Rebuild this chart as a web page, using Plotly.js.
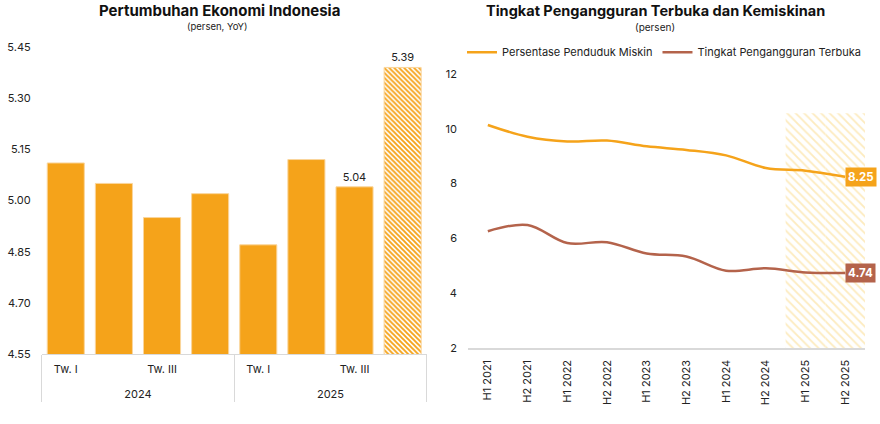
<!DOCTYPE html>
<html>
<head>
<meta charset="utf-8">
<script src="https://cdn.plot.ly/plotly-3.0.1.min.js"></script>
<style>html,body{margin:0;padding:0;background:#fff;}#chart{width:880px;height:424px;}</style>
</head>
<body>
<div id="chart"></div>
<script>
// ---- Data: left chart (GDP growth, % YoY) ----
const years = ['2024','2024','2024','2024','2025','2025','2025','2025'];
const quarters = ['Tw. I','Tw. II','Tw. III','Tw. IV','Tw. I','Tw. II','Tw. III','Tw. IV'];
const growth = [5.11, 5.05, 4.95, 5.02, 4.87, 5.12, 5.04, 5.39];
const growthLabelShown = [false, false, false, false, false, false, true, true];
const growthHatched = [false, false, false, false, false, false, false, true];

// ---- Data: right chart (%), half-year periods ----
const periods = ['H1 2021','H2 2021','H1 2022','H2 2022','H1 2023','H2 2023','H1 2024','H2 2024','H1 2025','H2 2025'];
const poverty = [10.14, 9.71, 9.54, 9.57, 9.36, 9.23, 9.03, 8.57, 8.47, 8.25];
const unemployment = [6.26, 6.49, 5.83, 5.86, 5.45, 5.34, 4.82, 4.91, 4.76, 4.74];
const shadedPeriods = ['H1 2025','H2 2025'];
const shadeTop = 10.57;

const ORANGE = '#F5A31A';
const BROWN = '#B4634B';
const FONT = 'Inter, "Noto Sans", sans-serif';

// visible first-level labels (only odd quarters shown); unique blanks for hidden ones
const quarterDisplay = quarters.map((q, i) => (i % 2 === 0) ? q + '<br>\u00a0' : ' '.repeat(1 + (i % 4 === 3 ? 1 : 0)));

const barTrace = {
  type: 'bar',
  x: [years, quarterDisplay],
  y: growth,
  width: 0.77,
  marker: {
    color: ORANGE,
    line: {color: '#FAD59C', width: 1},
    pattern: {
      shape: growthHatched.map(h => h ? '\\' : ''),
      fgcolor: ORANGE,
      bgcolor: '#FFFFFF',
      size: 3.5,
      solidity: 0.55,
      fillmode: 'replace'
    }
  },
  text: growth.map((v, i) => growthLabelShown[i] ? v.toFixed(2) : ''),
  textposition: 'outside',
  textfont: {family: FONT, size: 11, color: '#222'},
  cliponaxis: false,
  showlegend: false,
  hoverinfo: 'skip',
  xaxis: 'x', yaxis: 'y'
};

const shadeTrace = {
  type: 'bar',
  x: shadedPeriods,
  y: shadedPeriods.map(() => shadeTop - 2),
  base: 2,
  width: 1,
  marker: {
    color: '#FFFFFF',
    line: {width: 0},
    pattern: {shape: '\\', fgcolor: '#FDEBBE', bgcolor: '#FFFFFF', size: 6, solidity: 0.3, fillmode: 'replace'}
  },
  showlegend: false,
  hoverinfo: 'skip',
  xaxis: 'x2', yaxis: 'y2'
};

const povTrace = {
  type: 'scatter', mode: 'lines',
  name: 'Persentase Penduduk Miskin',
  x: periods, y: poverty,
  line: {color: ORANGE, width: 2.5, shape: 'spline', smoothing: 1},
  xaxis: 'x2', yaxis: 'y2'
};
const unTrace = {
  type: 'scatter', mode: 'lines',
  name: 'Tingkat Pengangguran Terbuka',
  x: periods, y: unemployment,
  line: {color: BROWN, width: 2.5, shape: 'spline', smoothing: 1},
  xaxis: 'x2', yaxis: 'y2'
};

const last = periods.length - 1;

const layout = {
  width: 880, height: 424,
  margin: {l: 0, r: 0, t: 0, b: 0},
  paper_bgcolor: '#FFFFFF', plot_bgcolor: 'rgba(0,0,0,0)',
  font: {family: FONT, size: 11, color: '#222'},
  barmode: 'overlay',
  showlegend: true,
  legend: {
    orientation: 'h', x: 462/880, xanchor: 'left', y: 0.877, yanchor: 'middle',
    font: {family: FONT, size: 11, color: '#222'},
    bgcolor: 'rgba(0,0,0,0)', borderwidth: 0, itemclick: false
  },
  xaxis: {
    domain: [0.0474, 0.4849], anchor: 'y', type: 'multicategory',
    range: [-0.5, 7.5],
    showline: true, linecolor: '#D9D9D9', linewidth: 1,
    showdividers: true, dividercolor: '#D9D9D9', dividerwidth: 1,
    ticks: '', showgrid: false, zeroline: false,
    ticklabelstandoff: 5,
    tickfont: {family: FONT, size: 11, color: '#222'}
  },
  yaxis: {
    domain: [0.1651, 0.8892], anchor: 'x',
    range: [4.55, 5.45], tick0: 4.55, dtick: 0.15, tickformat: '.2f',
    showgrid: false, zeroline: false, showline: false, ticks: '',
    ticklabelstandoff: 10,
    tickfont: {family: FONT, size: 11, color: '#222'}
  },
  xaxis2: {
    domain: [0.5318, 0.983], anchor: 'y2', type: 'category',
    categoryorder: 'array', categoryarray: periods,
    range: [-0.5, 9.5], tickangle: -90,
    showline: true, linecolor: '#D9D9D9', linewidth: 1.5,
    ticks: '', showgrid: false, zeroline: false,
    ticklabelstandoff: 6,
    tickfont: {family: FONT, size: 11, color: '#222'}
  },
  yaxis2: {
    domain: [0.1792, 0.8255], anchor: 'x2',
    range: [2, 12], dtick: 2,
    showgrid: false, zeroline: false, showline: false, ticks: '',
    ticklabelstandoff: 10,
    tickfont: {family: FONT, size: 11, color: '#222'}
  },
  annotations: [
    {text: '<b>Pertumbuhan Ekonomi Indonesia</b>', xref: 'paper', yref: 'paper', x: 219/880, y: 1 - 10/424,
     xanchor: 'center', yanchor: 'middle', showarrow: false, font: {family: FONT, size: 15, color: '#111'}},
    {text: '(persen, YoY)', xref: 'paper', yref: 'paper', x: 217/880, y: 1 - 27/424,
     xanchor: 'center', yanchor: 'middle', showarrow: false, font: {family: FONT, size: 9.5, color: '#222'}},
    {text: '<b>Tingkat Pengangguran Terbuka dan Kemiskinan</b>', xref: 'paper', yref: 'paper', x: 655/880, y: 1 - 10/424,
     xanchor: 'center', yanchor: 'middle', showarrow: false, font: {family: FONT, size: 14.5, color: '#111'}},
    {text: '(persen)', xref: 'paper', yref: 'paper', x: 655/880, y: 1 - 27/424,
     xanchor: 'center', yanchor: 'middle', showarrow: false, font: {family: FONT, size: 10, color: '#222'}},
    {text: '<b>' + poverty[last].toFixed(2) + '</b>', xref: 'x2', yref: 'y2', x: last, y: poverty[last],
     xanchor: 'left', yanchor: 'middle', showarrow: false, bgcolor: ORANGE, borderpad: 2,
     font: {family: FONT, size: 11.5, color: '#FFFFFF'}},
    {text: '<b>' + unemployment[last].toFixed(2) + '</b>', xref: 'x2', yref: 'y2', x: last, y: unemployment[last],
     xanchor: 'left', yanchor: 'middle', showarrow: false, bgcolor: BROWN, borderpad: 2,
     font: {family: FONT, size: 11.5, color: '#FFFFFF'}}
  ]
};

Plotly.newPlot('chart', [barTrace, shadeTrace, povTrace, unTrace], layout, {displayModeBar: false, staticPlot: true});
</script>
</body>
</html>
